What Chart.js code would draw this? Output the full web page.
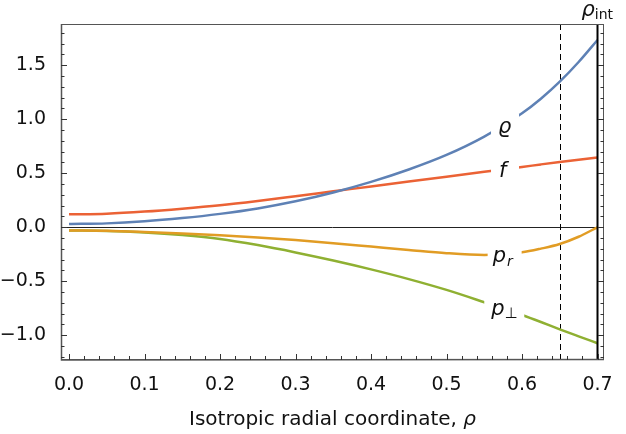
<!DOCTYPE html>
<html><head><meta charset="utf-8">
<script src="https://cdn.jsdelivr.net/npm/chart.js@4.4.1/dist/chart.umd.min.js"></script>
<style>html,body{margin:0;padding:0;background:#fff}#wrap{width:626px;height:434px;position:relative}</style>
</head><body><div id="wrap"><canvas id="c"></canvas></div>
<script>
// ---- data ----
const radius      = [0, 0.05, 0.10, 0.15, 0.20, 0.25, 0.30, 0.35, 0.40, 0.45, 0.50, 0.55, 0.60, 0.625, 0.65, 0.675, 0.70];
const density     = [0.030, 0.036, 0.055, 0.085, 0.124, 0.174, 0.240, 0.322, 0.420, 0.535, 0.670, 0.840, 1.055, 1.190, 1.348, 1.530, 1.734];
const fValues     = [0.120, 0.126, 0.145, 0.172, 0.204, 0.244, 0.288, 0.333, 0.378, 0.423, 0.468, 0.513, 0.558, 0.582, 0.605, 0.626, 0.645];
const radialP     = [-0.030, -0.033, -0.044, -0.058, -0.074, -0.094, -0.119, -0.148, -0.179, -0.210, -0.240, -0.256, -0.232, -0.198, -0.155, -0.088, 0.000];
const tangentialP = [-0.030, -0.034, -0.048, -0.072, -0.108, -0.165, -0.233, -0.308, -0.390, -0.480, -0.580, -0.694, -0.812, -0.877, -0.945, -1.010, -1.074];
const xTickValues = [0, 0.1, 0.2, 0.3, 0.4, 0.5, 0.6, 0.7];
const yTickValues = [-1.0, -0.5, 0.0, 0.5, 1.0, 1.5];
const dashedAt = 0.65;
const rhoInt = 0.7;

const FONT = "'DejaVu Sans', sans-serif";
const colors = {rho:'#5E81B5', f:'#EB6235', pr:'#E19C24', pp:'#8FB032'};

function pts(ys){ return radius.map((x,i)=>({x:x,y:ys[i]})); }
function fmt(v){ return v.toFixed(1).replace('-', '\u2212'); }

const curveLabels = [
  {x:0.5775, y:0.929, boxW:28, boxH:26, parts:[{t:'\u03F1', size:21, style:'italic', dx:-7, dy:6}]},
  {x:0.5775, y:0.531, boxW:28, boxH:26, parts:[{t:'f', size:21, style:'italic', dx:-6, dy:7}]},
  {x:0.5770, y:-0.266, boxW:34, boxH:26, parts:[{t:'p', size:21, style:'italic', dx:-12, dy:6},{t:'r', size:14, style:'italic', dx:1, dy:10}]},
  {x:0.5765, y:-0.766, boxW:40, boxH:28, parts:[{t:'p', size:21, style:'italic', dx:-13, dy:5},{t:'\u22A5', size:15, style:'normal', dx:0, dy:8}]}
];

const labelPlugin = {
  id:'curveLabels',
  afterDatasetsDraw(chart){
    const {ctx, scales:{x,y}} = chart;
    ctx.save();
    curveLabels.forEach(l=>{
      const cx = x.getPixelForValue(l.x), cy = y.getPixelForValue(l.y);
      ctx.fillStyle='#fff';
      ctx.fillRect(cx-l.boxW/2, cy-l.boxH/2, l.boxW, l.boxH);
      ctx.fillStyle='#111';
      ctx.textBaseline='alphabetic'; ctx.textAlign='left';
      let px = cx;
      l.parts.forEach((p,i)=>{
        ctx.font = `${p.style} ${p.size}px ${FONT}`;
        if(i===0) px = cx + p.dx; else px += p.dx;
        ctx.fillText(p.t, px, cy + p.dy);
        px += ctx.measureText(p.t).width;
      });
    });
    ctx.restore();
  }
};

const framePlugin = {
  id:'frame',
  beforeDatasetsDraw(chart){
    const {ctx, chartArea:a, scales:{x,y}} = chart;
    ctx.save();
    const y0 = Math.round(y.getPixelForValue(0))+0.5;
    ctx.strokeStyle='#222'; ctx.lineWidth=1;
    ctx.beginPath(); ctx.moveTo(a.left,y0); ctx.lineTo(a.right,y0); ctx.stroke();
    const xd = Math.round(x.getPixelForValue(dashedAt))+0.5;
    ctx.setLineDash([6,4]); ctx.strokeStyle='#000';
    ctx.beginPath(); ctx.moveTo(xd,a.top); ctx.lineTo(xd,a.bottom); ctx.stroke();
    ctx.restore();
  },
  afterDraw(chart){
    const {ctx, chartArea:a, scales:{x,y}} = chart;
    ctx.save();
    const xi = x.getPixelForValue(rhoInt);
    ctx.strokeStyle='#000'; ctx.lineWidth=2;
    ctx.beginPath(); ctx.moveTo(xi,a.top); ctx.lineTo(xi,a.bottom); ctx.stroke();
    ctx.strokeStyle='#555'; ctx.lineWidth=1;
    ctx.strokeRect(a.left+0.5, a.top+0.5, a.right-a.left-1, a.bottom-a.top-1);
    ctx.lineWidth=1.5; ctx.beginPath(); ctx.moveTo(a.left+0.5,a.top); ctx.lineTo(a.left+0.5,a.bottom); ctx.lineTo(a.right,a.bottom-0.5); ctx.stroke();
    ctx.lineWidth=1; ctx.strokeStyle='#333';
    for(let k=-12;k<=18;k++){
      const v=k/10, py=Math.round(y.getPixelForValue(v))+0.5;
      const major = (k%5===0), len = major?6:3.5;
      ctx.beginPath(); ctx.moveTo(a.left,py); ctx.lineTo(a.left+len,py);
      ctx.moveTo(a.right,py); ctx.lineTo(a.right-len,py); ctx.stroke();
    }
    for(let k=0;k<=35;k++){
      const v=k*0.02, px=Math.round(x.getPixelForValue(v))+0.5;
      const major=(k%5===0), len=major?6:4;
      ctx.beginPath(); ctx.moveTo(px,a.bottom); ctx.lineTo(px,a.bottom-len); ctx.stroke();
    }
    ctx.fillStyle='#111'; ctx.textBaseline='alphabetic'; ctx.textAlign='left';
    const t1='Isotropic radial coordinate, ';
    ctx.font=`20px ${FONT}`; const w1=ctx.measureText(t1).width;
    ctx.font=`italic 20px ${FONT}`; const w2=ctx.measureText('\u03C1').width;
    let sx=(a.left+a.right)/2-(w1+w2)/2;
    ctx.font=`20px ${FONT}`; ctx.fillText(t1,sx,425);
    ctx.font=`italic 20px ${FONT}`; ctx.fillText('\u03C1',sx+w1,425);
    ctx.font=`italic 21px ${FONT}`; ctx.fillText('\u03C1',xi-16,16);
    const wr=ctx.measureText('\u03C1').width;
    ctx.font=`14px ${FONT}`; ctx.fillText('int',xi-16+wr,19);
    ctx.restore();
  }
};

const ds = (label, ys, c) => ({label, data:pts(ys), borderColor:c, borderWidth:2.5, pointRadius:0, fill:false, cubicInterpolationMode:'monotone'});

new Chart(document.getElementById('c'), {
  type:'line',
  data:{datasets:[
    ds('\u03F1', density, colors.rho),
    ds('f', fValues, colors.f),
    ds('p_r', radialP, colors.pr),
    ds('p_\u22A5', tangentialP, colors.pp)
  ]},
  options:{
    responsive:true, maintainAspectRatio:false, animation:false,
    layout:{padding:{top:24,right:22,left:0,bottom:0}},
    plugins:{legend:{display:false}, tooltip:{enabled:false}},
    scales:{
      x:{type:'linear', min:-0.0106, max:0.7086,
        grid:{display:false}, border:{display:false},
        afterBuildTicks:s=>{s.ticks = xTickValues.map(v=>({value:v}));},
        afterFit:s=>{s.height=74;},
        ticks:{color:'#111', padding:6, maxRotation:0, autoSkip:false, font:{family:FONT,size:19}, callback:v=>fmt(v)}},
      y:{type:'linear', min:-1.229, max:1.882,
        grid:{display:false}, border:{display:false},
        afterBuildTicks:s=>{s.ticks = yTickValues.map(v=>({value:v}));},
        afterFit:s=>{s.width=61;},
        ticks:{color:'#111', padding:7, autoSkip:false, font:{family:FONT,size:19}, callback:v=>fmt(v)}}
    }
  },
  plugins:[framePlugin, labelPlugin]
});
</script></body></html>
